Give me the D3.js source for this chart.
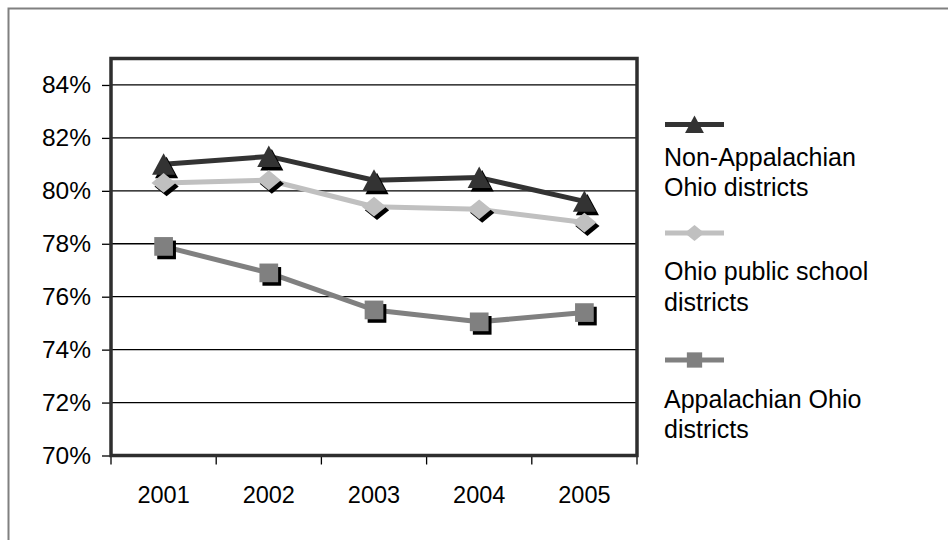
<!DOCTYPE html>
<html>
<head>
<meta charset="utf-8">
<script src="https://cdn.jsdelivr.net/npm/d3@7"></script>
<style>
  html, body { margin: 0; padding: 0; background: #fff; }
  svg { display: block; font-family: "Liberation Sans", Arial, Helvetica, sans-serif; }
</style>
</head>
<body>
<svg id="chart" width="948" height="540"></svg>
<script>
// Rates by school year, in percent
const years = ["2001", "2002", "2003", "2004", "2005"];
const nonAppalachian = [81.0, 81.3, 80.4, 80.5, 79.6];
const ohioPublic = [80.3, 80.4, 79.4, 79.3, 78.8];
const appalachian = [77.9, 76.9, 75.5, 75.05, 75.4];
const yTicks = [70, 72, 74, 76, 78, 80, 82, 84];
const seriesNames = [
  ["Non-Appalachian", "Ohio districts"],
  ["Ohio public school", "districts"],
  ["Appalachian Ohio", "districts"]
];

const series = [
  { values: nonAppalachian, color: "#333333", shape: "triangle", label: seriesNames[0] },
  { values: ohioPublic, color: "#c0c0c0", shape: "diamond", label: seriesNames[1] },
  { values: appalachian, color: "#808080", shape: "square", label: seriesNames[2] }
];

const svg = d3.select("#chart");
const W = 948, H = 540;
const plot = { left: 111, right: 637, top: 58.5, bottom: 455.5 };

svg.append("rect").attr("width", W).attr("height", H).attr("fill", "#fff");

// outer frame, open to the right and bottom
svg.append("rect")
  .attr("x", 8.5).attr("y", 8.5)
  .attr("width", W + 20).attr("height", H + 20)
  .attr("fill", "none").attr("stroke", "#808080").attr("stroke-width", 2);

const x = d3.scaleBand().domain(years).range([plot.left, plot.right]).padding(0);
const y = d3.scaleLinear().domain([70, 85]).range([plot.bottom, plot.top]);
const cx = d => x(d) + x.bandwidth() / 2;

// gridlines
svg.append("g").selectAll("line")
  .data(yTicks.filter(t => t > 70))
  .join("line")
  .attr("x1", plot.left).attr("x2", plot.right)
  .attr("y1", d => y(d)).attr("y2", d => y(d))
  .attr("stroke", "#000").attr("stroke-width", 1.3);

// y axis labels and ticks
const yAxis = d3.axisLeft(y).tickValues(yTicks).tickSize(9).tickPadding(11)
  .tickFormat(d => d + "%");
const gy = svg.append("g").attr("transform", `translate(${plot.left},0)`).call(yAxis);
gy.select(".domain").remove();
gy.selectAll(".tick line").attr("stroke", "#000").attr("stroke-width", 1.3);
gy.selectAll(".tick text")
  .attr("font-size", 24.5).attr("fill", "#000")
  .attr("font-family", "'Liberation Sans', Arial, sans-serif");

// x axis labels
const xAxis = d3.axisBottom(x).tickSize(0).tickPadding(0);
const gx = svg.append("g").attr("transform", `translate(0,${plot.bottom})`).call(xAxis);
gx.select(".domain").remove();
gx.selectAll(".tick text")
  .attr("font-size", 23.5).attr("fill", "#000")
  .attr("font-family", "'Liberation Sans', Arial, sans-serif")
  .attr("dy", null).attr("y", 47);

// x ticks at category boundaries
const bounds = years.map(d => x(d)).concat([x(years[years.length - 1]) + x.bandwidth()]);
svg.append("g").selectAll("line")
  .data(bounds)
  .join("line")
  .attr("x1", d => d).attr("x2", d => d)
  .attr("y1", plot.bottom).attr("y2", plot.bottom + 9)
  .attr("stroke", "#000").attr("stroke-width", 1.3);

// plot frame
svg.append("rect")
  .attr("x", plot.left).attr("y", plot.top)
  .attr("width", plot.right - plot.left).attr("height", plot.bottom - plot.top)
  .attr("fill", "none").attr("stroke", "#2e2e2e").attr("stroke-width", 3.5);

function shapePath(shape, s) {
  if (shape === "triangle") {
    return `M0,${-s * 1.0}L${s * 1.05},${s * 0.95}L${-s * 1.05},${s * 0.95}Z`;
  }
  if (shape === "diamond") {
    return `M0,${-s * 0.9}L${s * 1.1},0L0,${s * 0.9}L${-s * 1.1},0Z`;
  }
  return `M${-s * 0.85},${-s * 0.85}H${s * 0.85}V${s * 0.85}H${-s * 0.85}Z`;
}

const line = d3.line().x((d, i) => cx(years[i])).y(d => y(d));

series.forEach(s => {
  const g = svg.append("g");
  g.append("path")
    .attr("d", line(s.values))
    .attr("fill", "none").attr("stroke", s.color).attr("stroke-width", 5)
    .attr("stroke-linejoin", "round");
  // drop shadows
  g.selectAll(".shadow")
    .data(s.values)
    .join("path")
    .attr("class", "shadow")
    .attr("transform", (d, i) => `translate(${cx(years[i]) + 3},${y(d) + 3.5})`)
    .attr("d", shapePath(s.shape, 11))
    .attr("fill", "#000");
  g.selectAll(".marker")
    .data(s.values)
    .join("path")
    .attr("class", "marker")
    .attr("transform", (d, i) => `translate(${cx(years[i])},${y(d)})`)
    .attr("d", shapePath(s.shape, 11))
    .attr("fill", s.color);
});

// legend
const legendX = 665, legendW = 59;
const legendRows = [124.5, 233, 360];
const textBase = [[165.5, 195.5], [280, 311], [408, 438]];
series.forEach((s, k) => {
  const g = svg.append("g");
  g.append("line")
    .attr("x1", legendX).attr("x2", legendX + legendW)
    .attr("y1", legendRows[k]).attr("y2", legendRows[k])
    .attr("stroke", s.color).attr("stroke-width", 5);
  g.append("path")
    .attr("transform", `translate(${legendX + legendW / 2},${legendRows[k]})`)
    .attr("d", shapePath(s.shape, 9))
    .attr("fill", s.color);
  s.label.forEach((t, j) => {
    g.append("text")
      .attr("x", legendX - 1).attr("y", textBase[k][j])
      .attr("font-size", 25).attr("fill", "#000")
      .text(t);
  });
});
</script>
</body>
</html>
